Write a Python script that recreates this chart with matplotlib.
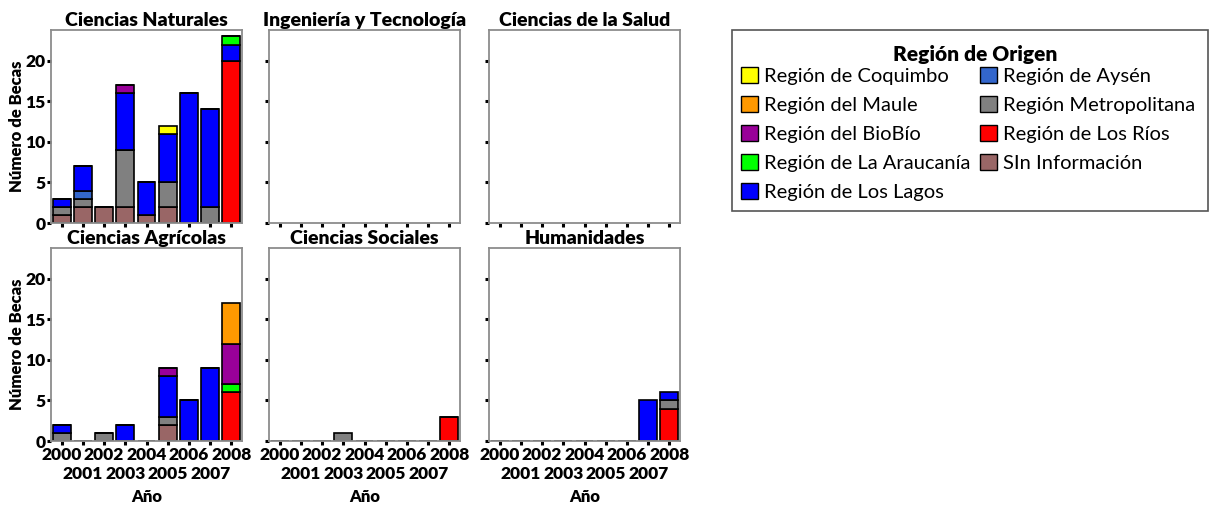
import numpy as np
import matplotlib
matplotlib.use("Agg")
import matplotlib.pyplot as plt
from matplotlib.patches import Patch, Rectangle

plt.rcParams['font.family'] = ['Lato', 'DejaVu Sans']

years = [2000, 2001, 2002, 2003, 2004, 2005, 2006, 2007, 2008]

# stacking order, bottom to top
regions = ["Región de Los Ríos", "SIn Información", "Región Metropolitana", "Región de Aysén",
           "Región de Los Lagos", "Región de La Araucanía", "Región del BioBío",
           "Región del Maule", "Región de Coquimbo"]
colors = {
    "Región de Coquimbo": "#FFFF00",
    "Región del Maule": "#FF9900",
    "Región del BioBío": "#990099",
    "Región de La Araucanía": "#00FF00",
    "Región de Los Lagos": "#0000FF",
    "Región de Aysén": "#3366CC",
    "Región Metropolitana": "#808080",
    "Región de Los Ríos": "#FF0000",
    "SIn Información": "#996666",
}
legend_order = ["Región de Coquimbo", "Región del Maule", "Región del BioBío",
                "Región de La Araucanía", "Región de Los Lagos", "Región de Aysén",
                "Región Metropolitana", "Región de Los Ríos", "SIn Información"]

# becas by area -> region -> per year (2000..2008)
naturales = {
    "Región de Los Ríos":     [0, 0, 0, 0, 0, 0, 0, 0, 20],
    "SIn Información":        [1, 2, 2, 2, 1, 2, 0, 0, 0],
    "Región Metropolitana":   [1, 1, 0, 7, 0, 3, 0, 2, 0],
    "Región de Aysén":        [0, 1, 0, 0, 0, 0, 0, 0, 0],
    "Región de Los Lagos":    [1, 3, 0, 7, 4, 6, 16, 12, 2],
    "Región de La Araucanía": [0, 0, 0, 0, 0, 0, 0, 0, 1],
    "Región del BioBío":      [0, 0, 0, 1, 0, 0, 0, 0, 0],
    "Región de Coquimbo":     [0, 0, 0, 0, 0, 1, 0, 0, 0],
}
ingenieria = {}
salud = {}
agricolas = {
    "Región de Los Ríos":     [0, 0, 0, 0, 0, 0, 0, 0, 6],
    "SIn Información":        [0, 0, 0, 0, 0, 2, 0, 0, 0],
    "Región Metropolitana":   [1, 0, 1, 0, 0, 1, 0, 0, 0],
    "Región de Los Lagos":    [1, 0, 0, 2, 0, 5, 5, 9, 0],
    "Región de La Araucanía": [0, 0, 0, 0, 0, 0, 0, 0, 1],
    "Región del BioBío":      [0, 0, 0, 0, 0, 1, 0, 0, 5],
    "Región del Maule":       [0, 0, 0, 0, 0, 0, 0, 0, 5],
}
sociales = {
    "Región de Los Ríos":     [0, 0, 0, 0, 0, 0, 0, 0, 3],
    "Región Metropolitana":   [0, 0, 0, 1, 0, 0, 0, 0, 0],
}
humanidades = {
    "Región de Los Ríos":     [0, 0, 0, 0, 0, 0, 0, 0, 4],
    "Región Metropolitana":   [0, 0, 0, 0, 0, 0, 0, 0, 1],
    "Región de Los Lagos":    [0, 0, 0, 0, 0, 0, 0, 5, 1],
}

panels = [("Ciencias Naturales", naturales), ("Ingeniería y Tecnología", ingenieria),
          ("Ciencias de la Salud", salud), ("Ciencias Agrícolas", agricolas),
          ("Ciencias Sociales", sociales), ("Humanidades", humanidades)]

W, H = 1211, 508
fig = plt.figure(figsize=(W / 100, H / 100), dpi=100)
lefts = [51, 269, 489]
tops = [30, 248]
pw, ph = 191, 193

x = np.arange(len(years))
even = x[::2]
odd = x[1::2]
for i, (title, data) in enumerate(panels):
    r, c = divmod(i, 3)
    ax = fig.add_axes([lefts[c] / W, 1 - (tops[r] + ph) / H, pw / W, ph / H])
    bottom = np.zeros(len(years))
    for reg in regions:
        if reg not in data:
            continue
        vals = np.array(data[reg], dtype=float)
        ax.bar(x, vals, bottom=bottom, width=0.84, color=colors[reg],
               edgecolor="black", linewidth=1.2)
        bottom += vals
    ax.set_xlim(-0.5, 8.5)
    ax.set_ylim(0, 23.8)
    ax.set_yticks([0, 5, 10, 15, 20])
    ax.set_xticks(even)
    ax.set_xticks(odd, minor=True)
    ax.tick_params(axis="both", which="both", direction="out", length=3, width=2.2,
                   color="black", labelsize=12.5, pad=1)
    ax.tick_params(axis="x", which="minor", pad=15)
    for s in ax.spines.values():
        s.set_color("#8c8c8c")
        s.set_linewidth(1.3)
    ax.set_title(title, fontsize=14, fontweight="heavy", pad=3)
    if c == 0:
        ax.set_ylabel("Número de Becas", fontsize=12, fontweight="heavy", labelpad=0)
        for lab in ax.get_yticklabels():
            lab.set_fontweight("heavy")
    else:
        ax.set_yticklabels([])
    if r == 1:
        ax.set_xticklabels([str(years[k]) for k in even], fontweight="heavy")
        ax.set_xticklabels([str(years[k]) for k in odd], minor=True, fontweight="heavy")
        ax.set_xlabel("Año", fontsize=12, fontweight="heavy", labelpad=5)
    else:
        ax.set_xticklabels([])
        ax.set_xticklabels([], minor=True)

# legend box with title, drawn in figure pixels
fig.patches.append(Rectangle((732 / W, 1 - 211 / H), 476 / W, 181 / H, transform=fig.transFigure,
                             facecolor="white", edgecolor="#555555", linewidth=1.2))
fig.text(975 / W, 1 - 54 / H, "Región de Origen", ha="center", va="center",
         fontsize=15, fontweight="heavy")
handles = [Patch(facecolor=colors[r], edgecolor="black", linewidth=1.0, label=r) for r in legend_order]
leg = fig.legend(handles=handles, loc="upper left", bbox_to_anchor=(741 / W, 1 - 67 / H),
                 ncol=2, fontsize=14.5, frameon=False,
                 handlelength=0.85, handleheight=0.85, handletextpad=0.3, columnspacing=0.45,
                 labelspacing=0.55, borderpad=0, borderaxespad=0)

fig.savefig("out.png", dpi=100)
